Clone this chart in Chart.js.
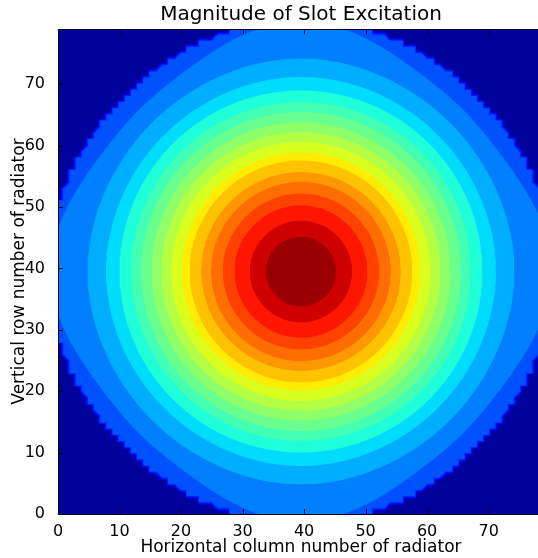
<!DOCTYPE html>
<html>
<head>
<meta charset="utf-8">
<script src="https://cdn.jsdelivr.net/npm/chart.js@4.4.1/dist/chart.umd.min.js"></script>
<style>
    html, body { margin:0; padding:0; background:#fff; overflow:hidden; }
    #wrap { width:560px; height:558px; }
</style>
</head>
<body>
<div id="wrap"><canvas id="chart" width="560" height="558"></canvas></div>
<script>
// ── Data ──────────────────────────────────────────────────────────────
const xTicks   = [0, 10, 20, 30, 40, 50, 60, 70];
const yTicks   = [0, 10, 20, 30, 40, 50, 60, 70];
const gridMax  = 79;
const centreX  = 39.5;
const centreY  = 39.5;

// contour levels (normalised magnitude), outermost first
const levels     = [0.045, 0.091, 0.136, 0.182, 0.227, 0.273, 0.318, 0.364, 0.409, 0.455, 0.500,
                    0.545, 0.591, 0.636, 0.682, 0.727, 0.773, 0.818, 0.864, 0.909, 0.955];
// radius of each contour along the row/column axes and along the diagonals
const radiusAxis = [41.4, 41.25, 41.1, 40.9, 40.6, 34.6, 31.6, 29.4, 27.5, 25.9, 24.2,
                    22.6, 21.0, 19.3, 18.0, 16.1, 14.5, 12.6, 10.7, 8.2, 5.6];
const radiusDiag = [40.7, 40.55, 40.4, 40.2, 37.2, 34.2, 31.4, 29.4, 27.5, 25.9, 24.2,
                    22.6, 21.0, 19.3, 18.0, 16.1, 14.5, 12.6, 10.7, 8.2, 5.6];
// contours 0..apertureIndex sit on the aperture edge, which follows the radiator grid
const apertureIndex = 3;
// band colours, outside the aperture first
const bandColors = ['#00009a', '#0000cf', '#0000ff', '#0023ff', '#0051ff', '#0080ff', '#00aeff',
                    '#00dcfe', '#1effd9', '#43ffb4', '#69ff8e', '#8eff69', '#b4ff43', '#d9ff1e',
                    '#feed00', '#ffc200', '#ff9700', '#ff6c00', '#ff4100', '#ff1600', '#cf0000',
                    '#9a0000'];

// ── Contour outlines ─────────────────────────────────────────────────
function smoothOutline(k, step) {
    const pts = [];
    for (let deg = 0; deg <= 360; deg += step) {
        const t = deg * Math.PI / 180;
        const c = Math.pow(Math.abs(Math.cos(2 * t)), 3);
        const r = radiusDiag[k] + (radiusAxis[k] - radiusDiag[k]) * c;
        pts.push({ x: centreX + r * Math.cos(t), y: centreY + r * Math.sin(t) });
    }
    return pts;
}

// aperture edge: snapped to the grid, rims scaled out from it
function steppedOutline(k) {
    const pts = [];
    smoothOutline(apertureIndex, 0.5).forEach(p => {
        const q = { x: Math.round(p.x), y: Math.round(p.y) };
        const last = pts[pts.length - 1];
        if (!last || last.x !== q.x || last.y !== q.y) pts.push(q);
    });
    const s = radiusDiag[k] / radiusDiag[apertureIndex];
    return pts.map(p => ({ x: centreX + (p.x - centreX) * s, y: centreY + (p.y - centreY) * s }));
}

const datasets = levels.map((lv, k) => ({
    label: 'level ' + lv,
    data: k <= apertureIndex ? steppedOutline(k) : smoothOutline(k, 1.5),
    showLine: true,
    fill: 'shape',
    backgroundColor: bandColors[k + 1],
    borderColor: bandColors[k + 1],
    borderWidth: 1,
    pointRadius: 0,
    tension: 0,
    order: levels.length - k,
}));

// ── Axes frame: background, inward ticks, box ────────────────────────
const frame = {
    id: 'frame',
    beforeDatasetsDraw(chart) {
        const { ctx, chartArea: a } = chart;
        ctx.save();
        ctx.fillStyle = bandColors[0];
        ctx.fillRect(a.left, a.top, a.right - a.left, a.bottom - a.top);
        ctx.restore();
    },
    afterDatasetsDraw(chart) {
        const { ctx, chartArea: a, scales: { x, y } } = chart;
        ctx.save();
        ctx.strokeStyle = '#000';
        ctx.lineWidth = 1;
        ctx.beginPath();
        xTicks.forEach(v => {
            const px = Math.round(x.getPixelForValue(v)) + 0.5;
            ctx.moveTo(px, a.bottom); ctx.lineTo(px, a.bottom - 5);
            ctx.moveTo(px, a.top);    ctx.lineTo(px, a.top + 5);
        });
        yTicks.forEach(v => {
            const py = Math.round(y.getPixelForValue(v)) + 0.5;
            ctx.moveTo(a.left, py);  ctx.lineTo(a.left + 5, py);
            ctx.moveTo(a.right, py); ctx.lineTo(a.right - 5, py);
        });
        ctx.stroke();
        ctx.strokeRect(a.left + 0.5, a.top + 0.5, a.right - a.left - 1, a.bottom - a.top);
        ctx.restore();
    }
};

const FONT = 'DejaVu Sans';

new Chart(document.getElementById('chart'), {
    type: 'scatter',
    data: { datasets },
    plugins: [frame],
    options: {
        responsive: false,
        animation: false,
        events: [],
        layout: { padding: { left: 0, right: 16, top: 0, bottom: 0 } },
        plugins: {
            legend: { display: false },
            tooltip: { enabled: false },
            title: {
                display: true, fullSize: false,
                text: 'Magnitude of Slot Excitation',
                color: '#000',
                font: { family: FONT, size: 20, weight: 'normal', lineHeight: 1.2 },
                padding: { top: 3, bottom: 2 }
            }
        },
        scales: {
            x: {
                type: 'linear', min: 0, max: gridMax,
                afterBuildTicks: s => { s.ticks = xTicks.map(v => ({ value: v })); },
                afterFit: s => { s.height = 44; },
                grid: { display: false },
                border: { display: false },
                ticks: { color: '#000', font: { family: FONT, size: 16 }, padding: 0, maxRotation: 0 },
                title: {
                    display: true, text: 'Horizontal column number of radiator', color: '#000',
                    font: { family: FONT, size: 17, lineHeight: 1.2 }, padding: { top: 0, bottom: 0 }
                }
            },
            y: {
                type: 'linear', min: 0, max: gridMax,
                afterBuildTicks: s => { s.ticks = yTicks.map(v => ({ value: v })); },
                afterFit: s => { s.width = 58; },
                grid: { display: false },
                border: { display: false },
                ticks: { color: '#000', font: { family: FONT, size: 16 }, padding: 5 },
                title: {
                    display: true, text: 'Vertical row number of radiator', color: '#000',
                    font: { family: FONT, size: 17, lineHeight: 1.2 }, padding: { top: 9.5, bottom: 0 }
                }
            }
        }
    }
});
</script>
</body>
</html>
